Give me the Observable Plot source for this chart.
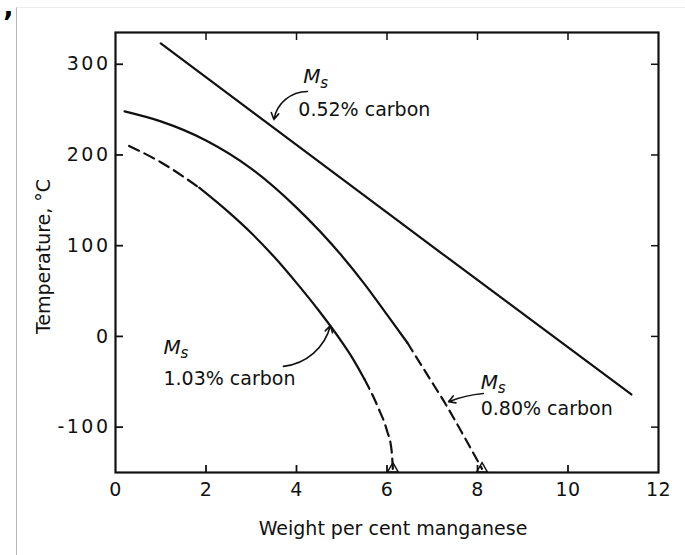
<!DOCTYPE html>
<html>
<head>
<meta charset="utf-8">
<script src="https://cdn.jsdelivr.net/npm/d3@7"></script>
<script src="https://cdn.jsdelivr.net/npm/@observablehq/plot@0.6"></script>
<style>
  body { margin: 0; background: #fff; }
  #wrap { position: relative; width: 685px; height: 555px; overflow: hidden; background: #fff; }
  #wrap svg { position: absolute; left: 0; top: 0; }
  #edge { position: absolute; left: 16px; top: 7px; right: 0; bottom: 0; border-left: 1px solid #b5b5b5; border-top: 1px solid #ececec; pointer-events: none; }
  #mark { position: absolute; left: 3px; top: 9px; font: bold 28px/28px "DejaVu Sans", sans-serif; color: #000; }
  g[aria-label="y-axis tick label"] { letter-spacing: 2.5px; }
  g[aria-label="x-axis tick label"] { letter-spacing: 0.5px; }
  g[aria-label="annotation"] { letter-spacing: 1.2px; }
  g[aria-label="x title"] { letter-spacing: 0.5px; }
  g[aria-label="y title"] { letter-spacing: 0.4px; }
</style>
</head>
<body>
<div id="wrap"><div id="edge"></div><span id="mark">’</span></div>
<script>
// ---- tick values ----
const xTicks = [0, 2, 4, 6, 8, 10, 12];
const xInnerTicks = [2, 4, 6, 8, 10];
const yTicks = [-100, 0, 100, 200, 300];

// ---- curves: weight % Mn vs Ms temperature (°C); part = segment id, dashed flag ----
const carbon052 = [
  {mn: 1.0, t: 323, part: 0, dashed: false},
  {mn: 5.05, t: 172, part: 0, dashed: false},
  {mn: 7.33, t: 87, part: 0, dashed: false},
  {mn: 11.4, t: -64, part: 0, dashed: false}
];
const carbon080 = [
  {mn: 0.2, t: 248, part: 0, dashed: false},
  {mn: 1.0, t: 237, part: 0, dashed: false},
  {mn: 2.0, t: 216, part: 0, dashed: false},
  {mn: 3.0, t: 185, part: 0, dashed: false},
  {mn: 4.0, t: 142, part: 0, dashed: false},
  {mn: 5.0, t: 89, part: 0, dashed: false},
  {mn: 5.5, t: 58, part: 0, dashed: false},
  {mn: 6.0, t: 24, part: 0, dashed: false},
  {mn: 6.45, t: -7, part: 0, dashed: false},
  {mn: 6.45, t: -7, part: 1, dashed: true},
  {mn: 6.9, t: -43, part: 1, dashed: true},
  {mn: 7.3, t: -75, part: 1, dashed: true},
  {mn: 7.7, t: -110, part: 1, dashed: true},
  {mn: 8.1, t: -146, part: 1, dashed: true}
];
const carbon103 = [
  {mn: 0.3, t: 210, part: 0, dashed: true},
  {mn: 1.0, t: 192, part: 0, dashed: true},
  {mn: 1.85, t: 164, part: 0, dashed: true},
  {mn: 1.85, t: 164, part: 1, dashed: false},
  {mn: 2.5, t: 137, part: 1, dashed: false},
  {mn: 3.0, t: 114, part: 1, dashed: false},
  {mn: 3.5, t: 88, part: 1, dashed: false},
  {mn: 4.0, t: 59, part: 1, dashed: false},
  {mn: 4.5, t: 28, part: 1, dashed: false},
  {mn: 5.0, t: -6, part: 1, dashed: false},
  {mn: 5.25, t: -25, part: 1, dashed: false},
  {mn: 5.5, t: -47, part: 1, dashed: false},
  {mn: 5.5, t: -47, part: 2, dashed: true},
  {mn: 5.8, t: -78, part: 2, dashed: true},
  {mn: 6.0, t: -104, part: 2, dashed: true},
  {mn: 6.1, t: -125, part: 2, dashed: true},
  {mn: 6.13, t: -146, part: 2, dashed: true}
];

// ---- annotations ----
const labelText = ["0.52% carbon", "1.03% carbon", "0.80% carbon"];
const labelMn = [4.04, 1.06, 8.07];
const labelT = [250, -47, -80];
const msMn = [4.15, 1.06, 8.07];
const msT = [286, -12, -51];
const arrowMn1 = [4.24, 3.71, 8.13];
const arrowT1 = [270, -33, -63];
const arrowMn2 = [3.50, 4.75, 7.36];
const arrowT2 = [239, 12, -72];
const arrowBend = [-40, -35, -8];
const endMn = [6.13, 8.1];
const endT = [-146, -146];

const labels = labelText.map((text, i) => ({text, mn: labelMn[i], t: labelT[i], msMn: msMn[i], msT: msT[i]}));
const arrows = arrowMn1.map((m, i) => ({x1: m, y1: arrowT1[i], x2: arrowMn2[i], y2: arrowT2[i], bend: arrowBend[i]}));
const ends = endMn.map((m, i) => ({mn: m, t: endT[i]}));

const solid = d => !d.dashed;
const dash = d => d.dashed;
const lineOpts = {x: "mn", y: "t", z: "part", stroke: "#111", strokeWidth: 2.2, curve: "monotone-x"};

const yFmt = d => d < 0 ? "-" + Math.abs(d) : String(d);
const arrowMark = i => Plot.arrow(arrows.filter((d, j) => j === i), {
  x1: "x1", y1: "y1", x2: "x2", y2: "y2", bend: arrows[i].bend,
  stroke: "#111", strokeWidth: 1.6, headLength: 7
});

const chart = Plot.plot({
  width: 685,
  height: 555,
  marginLeft: 115,
  marginRight: 27,
  marginTop: 32,
  marginBottom: 83,
  x: {domain: [0, 12]},
  y: {domain: [-150, 335]},
  style: {fontFamily: "DejaVu Sans, sans-serif", fontSize: "19px", color: "#111", background: "transparent"},
  marks: [
    Plot.frame({stroke: "#111", strokeWidth: 2.2}),
    // tick labels
    Plot.axisX(xTicks, {anchor: "bottom", tickSize: 0, tickPadding: 10, label: null, fontSize: 19}),
    Plot.axisY(yTicks, {anchor: "left", tickSize: 0, tickPadding: 5, tickFormat: yFmt, label: null, fontSize: 19}),
    // inward ticks on all four sides
    Plot.axisX(xInnerTicks, {anchor: "bottom", tickSize: -7, strokeWidth: 1.8, tickFormat: () => "", label: null}),
    Plot.axisX(xInnerTicks, {anchor: "top", tickSize: -7, strokeWidth: 1.5, tickFormat: () => "", label: null}),
    Plot.axisY(yTicks, {anchor: "left", tickSize: -8, strokeWidth: 1.8, tickFormat: () => "", label: null}),
    Plot.axisY(yTicks, {anchor: "right", tickSize: -8, strokeWidth: 1.5, tickFormat: () => "", label: null}),
    // axis titles
    Plot.text(["Weight per cent manganese"], {frameAnchor: "bottom", textAnchor: "middle", lineAnchor: "middle", dy: 56, dx: 6, fontSize: 19, fill: "#111", ariaLabel: "x title"}),
    Plot.text(["Temperature, °C"], {frameAnchor: "left", textAnchor: "middle", lineAnchor: "middle", rotate: -90, dx: -72, dy: 4, fontSize: 19, fill: "#111", ariaLabel: "y title"}),
    // curves
    Plot.line(carbon052, {...lineOpts, curve: "linear"}),
    Plot.line(carbon080.filter(solid), lineOpts),
    Plot.line(carbon080.filter(dash), {...lineOpts, strokeDasharray: "10,6"}),
    Plot.line(carbon103.filter(solid), lineOpts),
    Plot.line(carbon103.filter(dash), {...lineOpts, strokeDasharray: "11,6"}),
    Plot.dot(ends, {x: "mn", y: "t", symbol: "triangle", r: 4, stroke: "#111", strokeWidth: 1.5, fill: "none"}),
    // annotation arrows
    arrowMark(0),
    arrowMark(1),
    arrowMark(2),
    // annotation text
    Plot.text(labels, {x: "mn", y: "t", text: "text", textAnchor: "start", fontSize: 19, fill: "#111", ariaLabel: "annotation"}),
    Plot.text(labels, {x: "msMn", y: "msT", text: () => "M", textAnchor: "start", fontSize: 20, fontStyle: "italic", fill: "#111"}),
    Plot.text(labels, {x: "msMn", y: "msT", text: () => "s", textAnchor: "start", dx: 17, dy: 6, fontSize: 15, fontStyle: "italic", fill: "#111"})
  ]
});
document.getElementById("wrap").prepend(chart);
</script>
</body>
</html>
